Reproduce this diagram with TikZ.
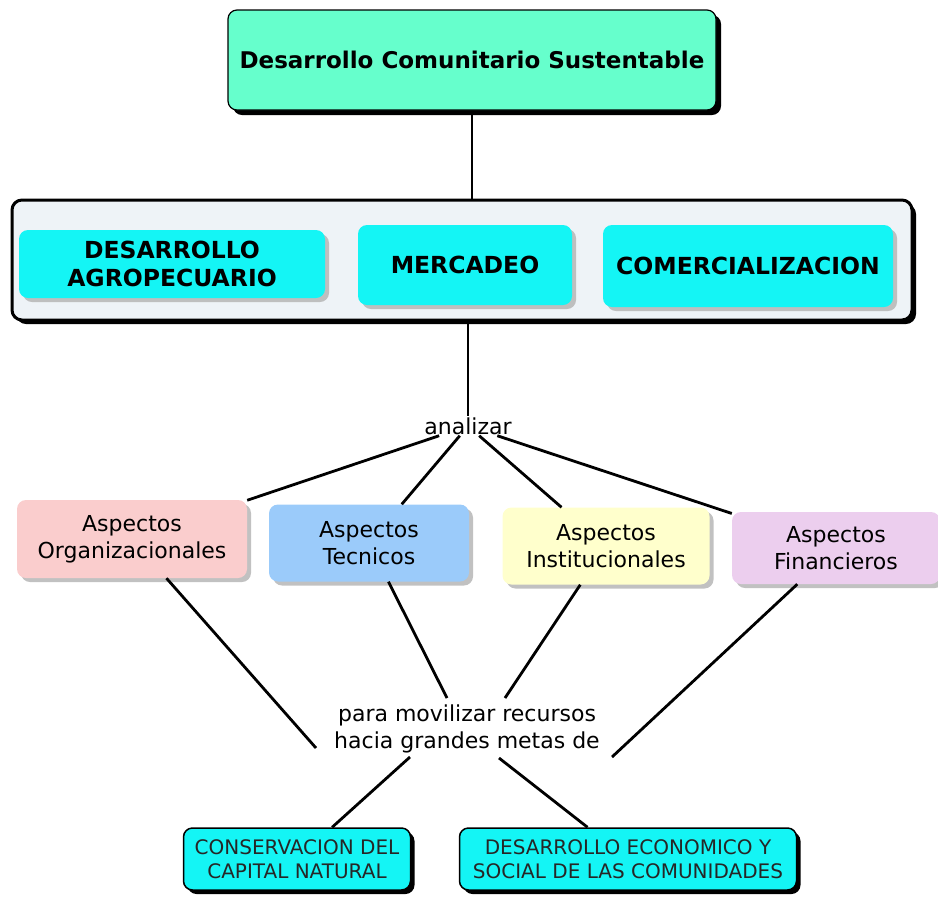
\documentclass[tikz,border=0pt]{standalone}
\usepackage{fontspec}
\setmainfont{DejaVu Sans}
\usetikzlibrary{shadows}

\definecolor{mint}{RGB}{102,255,204}
\definecolor{panel}{RGB}{238,243,247}
\definecolor{aqua}{RGB}{20,245,245}
\definecolor{rosa}{RGB}{250,205,205}
\definecolor{celeste}{RGB}{155,203,250}
\definecolor{crema}{RGB}{255,255,204}
\definecolor{lila}{RGB}{236,206,238}

\tikzset{
  hardshadow/.style={general shadow={shadow xshift=#1, shadow yshift=-#1, fill=black}},
  softshadow/.style={general shadow={shadow xshift=4pt, shadow yshift=-4pt, fill=black!30, fill opacity=0.8}},
  concept/.style={rounded corners=9pt, inner sep=0pt, align=center},
  titlefont/.style={font=\fontsize{23}{28}\selectfont\bfseries},
  bigfont/.style={font=\fontsize{23.5}{28}\selectfont\bfseries},
  aspfont/.style={font=\fontsize{22}{27}\selectfont},
  goalfont/.style={font=\fontsize{20}{23.5}\selectfont, text=black!85},
  linkfont/.style={font=\fontsize{22}{26.5}\selectfont, inner sep=1pt, align=center},
  link/.style={line width=2.8pt, black}
}

\begin{document}
\begin{tikzpicture}[x=1pt, y=-1pt]
\useasboundingbox (0,0) rectangle (938,898);

% title concept
\node[concept, draw, line width=1.2pt, fill=mint, hardshadow=5pt, titlefont,
      minimum width=488, minimum height=100] (top) at (472,60)
      {Desarrollo Comunitario Sustentable};

% nested group with three areas
\node[concept, rounded corners=10pt, draw, line width=3pt, fill=panel, hardshadow=4pt,
      minimum width=900, minimum height=120] (cont) at (462,260) {};
\node[concept, fill=aqua, softshadow, bigfont,
      minimum width=306, minimum height=68] (agro) at (172,264)
      {DESARROLLO\\AGROPECUARIO};
\node[concept, fill=aqua, softshadow, bigfont,
      minimum width=214, minimum height=80] (merc) at (465,265) {MERCADEO};
\node[concept, fill=aqua, softshadow, bigfont,
      minimum width=290, minimum height=82] (comer) at (748,266) {COMERCIALIZACION};

% linking phrases
\node[linkfont] (anal) at (468,426) {analizar};
\node[linkfont] (para) at (467,729) {para movilizar recursos\\hacia grandes metas de};

% aspect concepts
\node[concept, fill=rosa, softshadow, aspfont,
      minimum width=230, minimum height=78] (org) at (132,539)
      {Aspectos\\Organizacionales};
\node[concept, fill=celeste, softshadow, aspfont,
      minimum width=200, minimum height=77] (tec) at (369,543)
      {Aspectos\\Tecnicos};
\node[concept, fill=crema, softshadow, aspfont,
      minimum width=207, minimum height=77] (inst) at (606,546)
      {Aspectos\\Institucionales};
\node[concept, fill=lila, softshadow, aspfont,
      minimum width=208, minimum height=72] (fin) at (836,548)
      {Aspectos\\Financieros};

% goal concepts
\node[concept, draw, line width=1.5pt, fill=aqua, hardshadow=4pt, goalfont,
      minimum width=227, minimum height=62] (cons) at (297,859)
      {CONSERVACION DEL\\CAPITAL NATURAL};
\node[concept, draw, line width=1.5pt, fill=aqua, hardshadow=4pt, goalfont,
      minimum width=337, minimum height=62] (desec) at (628,859)
      {DESARROLLO ECONOMICO Y\\SOCIAL DE LAS COMUNIDADES};

% attachment points around the second linking phrase
\coordinate (pOrg) at (316,748);
\coordinate (pTec) at (447,698);
\coordinate (pInst) at (505,698);
\coordinate (pFin) at (612,757);
\coordinate (pCons) at (410,757);
\coordinate (pDes) at (499,758);

% connectors
\draw[link] (top.south) -- (top.south |- cont.north);
\draw[link] (anal.north |- cont.south) -- (anal.north);
\draw[link] (anal) -- (org);
\draw[link] (anal) -- (tec);
\draw[link] (anal) -- (inst);
\draw[link] (anal) -- (fin);
\draw[link] (org) -- (pOrg);
\draw[link] (tec) -- (pTec);
\draw[link] (inst) -- (pInst);
\draw[link] (fin) -- (pFin);
\draw[link] (pCons) -- (cons);
\draw[link] (pDes) -- (desec);
\end{tikzpicture}
\end{document}
